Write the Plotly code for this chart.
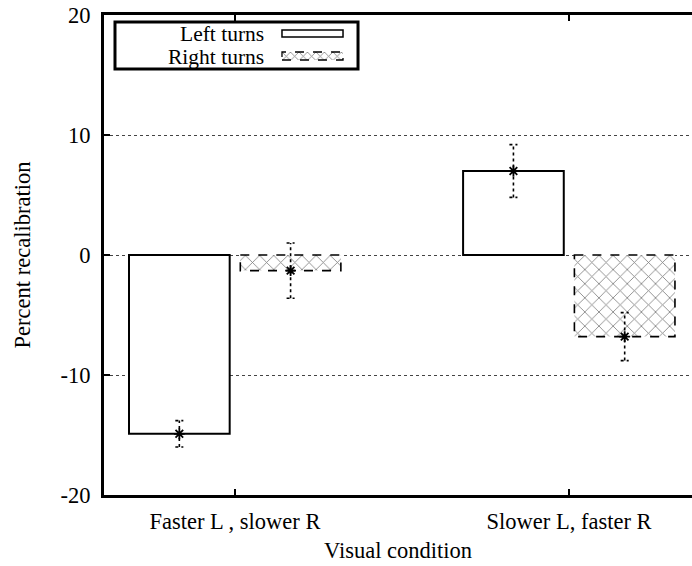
import plotly.graph_objects as go

categories = ["Faster L , slower R", "Slower L, faster R"]
left_turns = [-14.9, 7.0]
left_err = [1.1, 2.2]
right_turns = [-1.3, -6.8]
right_err = [2.3, 2.0]
series_names = ["Left turns", "Right turns"]
y_tickvals = [-20, -10, 0, 10, 20]
y_ticktext = ["-20", "-10", "0", "10", "20"]

FONT = "Liberation Serif"
FS = 22.5
LFS = 21.5
BAR_W = 0.301
OFF = 0.1665
CAP = 0.012

idx = list(range(len(categories)))

fig = go.Figure()

fig.add_trace(go.Bar(
    x=idx, y=left_turns, name=series_names[0], showlegend=False,
    marker=dict(color="white", line=dict(color="black", width=2)),
))
fig.add_trace(go.Bar(
    x=idx, y=right_turns, name=series_names[1], showlegend=False,
    marker=dict(color="white", line=dict(color="black", width=0),
                pattern=dict(shape="x", fgcolor="black", bgcolor="white",
                             size=10, solidity=0.16)),
))

# dashed outline for the patterned bars
for i, v in zip(idx, right_turns):
    fig.add_shape(type="rect", xref="x", yref="y",
                  x0=i + OFF - BAR_W / 2, x1=i + OFF + BAR_W / 2, y0=0, y1=v,
                  line=dict(color="black", width=1.6, dash="dash"), layer="above")

# dotted error bars with star markers
def add_err(vals, errs, off):
    xs, ys = [], []
    for i, v, e in zip(idx, vals, errs):
        xc = i + off
        xs += [xc, xc, None, xc - CAP, xc + CAP, None, xc - CAP, xc + CAP, None]
        ys += [v - e, v + e, None, v + e, v + e, None, v - e, v - e, None]
    fig.add_trace(go.Scatter(x=xs, y=ys, mode="lines", showlegend=False,
                             line=dict(color="black", width=1.6, dash="dot"),
                             hoverinfo="skip"))
    fig.add_trace(go.Scatter(x=[i + off for i in idx], y=vals, mode="markers",
                             showlegend=False,
                             marker=dict(symbol="asterisk-open", size=9, color="black",
                                         line=dict(color="black", width=1.8))))

add_err(left_turns, left_err, -OFF)
add_err(right_turns, right_err, OFF)

# manual legend (text left of swatch, as in the reference)
fig.add_shape(type="rect", xref="paper", yref="paper",
              x0=0.0187, x1=0.432, y0=0.8875, y1=0.9854,
              line=dict(color="black", width=3), layer="above")
fig.add_annotation(xref="paper", yref="paper", x=0.2755, y=0.9594,
                   text=series_names[0], showarrow=False, xanchor="right",
                   yanchor="middle", height=22,
                   font=dict(family=FONT, size=LFS, color="black"))
fig.add_annotation(xref="paper", yref="paper", x=0.2755, y=0.9115,
                   text=series_names[1], showarrow=False, xanchor="right",
                   yanchor="middle", height=22,
                   font=dict(family=FONT, size=LFS, color="black"))
fig.add_shape(type="rect", xref="paper", yref="paper",
              x0=0.3027, x1=0.4065, y0=0.954, y1=0.9688,
              line=dict(color="black", width=1.5), fillcolor="white", layer="above")
# patterned legend swatch drawn as a tiny bar on an overlay axis
fig.add_trace(go.Bar(x=[0], y=[1], width=[1], xaxis="x2", yaxis="y2", showlegend=False,
                     hoverinfo="skip",
                     marker=dict(color="white", line=dict(width=0),
                                 pattern=dict(shape="x", fgcolor="black", bgcolor="white",
                                              size=6, solidity=0.25))))
fig.add_shape(type="rect", xref="paper", yref="paper",
              x0=0.3027, x1=0.4065, y0=0.9063, y1=0.9229,
              line=dict(color="black", width=1.3, dash="dash"), layer="above")

fig.update_layout(
    width=692, height=566,
    margin=dict(l=104, r=0, t=15, b=71),
    paper_bgcolor="white", plot_bgcolor="white",
    font=dict(family=FONT, size=FS, color="black"),
    barmode="group", bargap=0.334, bargroupgap=0.095,
    showlegend=False,
    xaxis=dict(
        range=[-0.392, 1.368], tickvals=idx, ticktext=categories,
        ticks="inside", ticklen=6, tickwidth=2, tickcolor="black",
        showline=True, linewidth=3, linecolor="black", mirror="ticks",
        showgrid=False, zeroline=False, ticklabelstandoff=4,
        title=dict(text="Visual condition", standoff=10,
                   font=dict(family=FONT, size=FS)),
    ),
    yaxis=dict(
        range=[-20, 20], tickvals=y_tickvals, ticktext=y_ticktext,
        ticks="inside", ticklen=6, tickwidth=2, tickcolor="black",
        showline=True, linewidth=3, linecolor="black", mirror=False,
        showgrid=True, gridcolor="#444", gridwidth=1, griddash="dot",
        zeroline=False, ticklabelstandoff=6,
        title=dict(text="Percent recalibration", standoff=24,
                   font=dict(family=FONT, size=FS)),
    ),
    xaxis2=dict(domain=[0.3027, 0.4065], range=[-0.5, 0.5], visible=False,
                anchor="y2", fixedrange=True),
    yaxis2=dict(domain=[0.9063, 0.9229], range=[0, 1], visible=False,
                anchor="x2", fixedrange=True),
)

fig.write_html("out.html", config={"displayModeBar": False},
               post_script="document.body.style.margin='0';document.body.style.padding='0';")
